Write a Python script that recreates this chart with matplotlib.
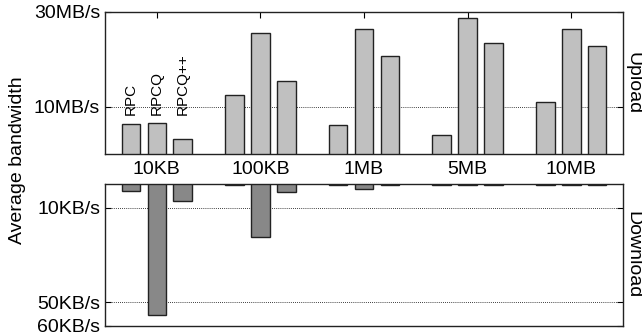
import numpy as np
import matplotlib
matplotlib.use('Agg')
import matplotlib.pyplot as plt

plt.rcParams['font.family'] = ['Liberation Sans', 'DejaVu Sans']

sizes = ['10KB', '100KB', '1MB', '5MB', '10MB']
methods = ['RPC', 'RPCQ', 'RPCQ++']

# upload bandwidth in MB/s
up_rpc = [6.3, 12.5, 6.1, 4.0, 10.9]
up_rpcq = [6.55, 25.6, 26.5, 28.7, 26.4]
up_rpcqpp = [3.2, 15.5, 20.6, 23.4, 22.8]

# download bandwidth in KB/s
down_rpc = [2.9, 0.4, 0.3, 0.3, 0.3]
down_rpcq = [55.5, 22.4, 2.2, 0.6, 0.3]
down_rpcqpp = [7.0, 3.5, 0.3, 0.3, 0.3]

up_ticks = [10, 30]
up_ticklabels = ['10MB/s', '30MB/s']
down_ticks = [10, 50, 60]
down_ticklabels = ['10KB/s', '50KB/s', '60KB/s']

x = np.arange(len(sizes))
w = 0.18
offs = [-0.25, 0, 0.25]

fig = plt.figure(figsize=(6.42, 3.36), dpi=100)
ax1 = fig.add_axes([0.1636, 0.5417, 0.8068, 0.4226])
ax2 = fig.add_axes([0.1636, 0.0298, 0.8068, 0.4226])

for o, vals in zip(offs, [up_rpc, up_rpcq, up_rpcqpp]):
    ax1.bar(x + o, vals, w, color='#c0c0c0', edgecolor='#222222', linewidth=1, zorder=3)
for o, vals in zip(offs, [down_rpc, down_rpcq, down_rpcqpp]):
    ax2.bar(x + o, vals, w, color='#888888', edgecolor='#222222', linewidth=1, zorder=3)

# method labels above the first group
for o, m in zip(offs, methods):
    ax1.text(x[0] + o, 8.3, m, rotation=90, ha='center', va='bottom', fontsize=11)

ax1.set_xlim(-0.5, 4.5)
ax1.set_ylim(0, 30)
ax1.set_yticks(up_ticks)
ax1.set_yticklabels(up_ticklabels)
ax1.set_xticks(x)
ax1.set_xticklabels(sizes)
ax1.tick_params(axis='x', bottom=False, top=True, labelbottom=True, direction='in', pad=5, length=4)
ax1.tick_params(axis='y', left=True, right=True, direction='in', length=4)
ax1.grid(axis='y', linestyle=(0, (1, 1.5)), color='black', linewidth=0.6, zorder=0)

ax2.set_xlim(-0.5, 4.5)
ax2.set_ylim(60, 0)
ax2.set_yticks(down_ticks)
ax2.set_yticklabels(down_ticklabels)
ax2.set_xticks([])
ax2.tick_params(axis='y', left=True, right=True, direction='in', length=4)
ax2.grid(axis='y', linestyle=(0, (1, 1.5)), color='black', linewidth=0.6, zorder=0)

for ax in [ax1, ax2]:
    ax.tick_params(labelsize=14)
    for s in ax.spines.values():
        s.set_linewidth(1)
        s.set_color('#222222')

fig.text(0.028, 0.524, 'Average bandwidth', rotation=90, ha='center', va='center', fontsize=14)
fig.text(0.999, 0.753, 'Upload', rotation=-90, ha='right', va='center', fontsize=14)
fig.text(0.999, 0.241, 'Download', rotation=-90, ha='right', va='center', fontsize=14)

plt.savefig('out.png')
